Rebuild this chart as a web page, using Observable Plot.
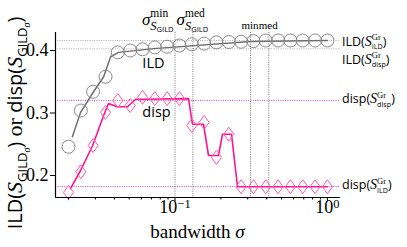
<!DOCTYPE html>
<html><head><meta charset="utf-8">
<script src="https://cdn.jsdelivr.net/npm/d3@7"></script>
<script src="https://cdn.jsdelivr.net/npm/@observablehq/plot@0.6"></script>
<style>html,body{margin:0;padding:0;background:#fff;overflow:hidden}</style>
</head><body>
<script>
// ---- data ----
const sigma = [0.0200,0.0241,0.0290,0.0350,0.0421,0.0508,0.0612,0.0737,0.0888,0.1069,0.1288,0.1552,0.1870,0.2253,0.2714,0.3270,0.3939,0.4746,0.5718,0.6889,0.8300,1.0];
const ildMarker  = [0.246,0.304,0.334,0.358,0.397,0.400,0.402,0.405,0.406,0.408,0.410,0.411,0.413,0.4136,0.414,0.415,0.416,0.416,0.416,0.416,0.416,0.416];
const dispMarker = [0.173,0.206,0.248,0.301,0.320,0.312,0.325,0.323,0.323,0.323,0.280,0.285,0.229,0.266,0.182,0.182,0.182,0.182,0.182,0.182,0.182,0.182];
const ildLineX  = [0.0212,0.0240,0.0292,0.0340,0.0378,0.0426,0.0724,0.313,1.0];
const ildLineY  = [0.262,0.301,0.334,0.358,0.390,0.397,0.403,0.4144,0.416];
const dispLineX = [0.0206,0.0240,0.0288,0.0340,0.0366,0.0419,0.0488,0.0551,0.0621,0.1226,0.1302,0.1538,0.1659,0.1929,0.2049,0.2348,0.2571,1.0];
const dispLineY = [0.179,0.208,0.248,0.296,0.315,0.310,0.310,0.322,0.322,0.323,0.282,0.282,0.232,0.232,0.266,0.266,0.182,0.182];
const refLevels = [0.416, 0.4027, 0.320, 0.1824];           // ILD(S_ILD), ILD(S_disp), disp(S_disp), disp(S_ILD)
const refKinds  = ["ild", "ild", "disp", "disp"];
const vLines    = [0.1, 0.131, 0.313, 0.4125];               // sigma min, sigma med, min, med
const xMajor = [0.1, 1];
const xMinor = [0.02,0.03,0.04,0.05,0.06,0.07,0.08,0.09,0.2,0.3,0.4,0.5,0.6,0.7,0.8,0.9];
const yTicks = [0.2, 0.3, 0.4];
const xDomain = [0.01643, 1.219];
const yDomain = [0.1648, 0.4288];

const SANS = "Open Sans, DejaVu Sans, sans-serif";
const SERIF = "Liberation Serif, DejaVu Serif, serif";
const PINK = "#ff1493", PINK2 = "#ff5aae", GREY = "#6e6e6e", GREY2 = "#8a8a8a";

const markers = sigma.map((s, i) => ({s, ild: ildMarker[i], disp: dispMarker[i]}));
const ildLine = ildLineX.map((s, i) => ({s, v: ildLineY[i]}));
const dispLine = dispLineX.map((s, i) => ({s, v: dispLineY[i]}));
const refs = refLevels.map((v, i) => ({v, k: refKinds[i]}));

const diamond = {draw(ctx, size) { const r = Math.sqrt(size / Math.PI); const w = r * 0.72;
  ctx.moveTo(0, -r); ctx.lineTo(w, 0); ctx.lineTo(0, r); ctx.lineTo(-w, 0); ctx.closePath(); }};

const plot = Plot.plot({
  width: 407, height: 247,
  marginLeft: 55, marginRight: 67, marginTop: 32, marginBottom: 50,
  style: {fontFamily: SERIF, fontSize: "18px", background: "white"},
  x: {type: "log", domain: xDomain},
  y: {domain: yDomain},
  marks: [
    Plot.ruleY(refs, {y: "v", stroke: d => d.k === "ild" ? "#9a9a9a" : PINK, strokeWidth: 0.8, strokeDasharray: "1,1.3"}),
    Plot.ruleX(vLines, {stroke: "#555", strokeWidth: 0.8, strokeDasharray: "1,1.3"}),
    Plot.line(ildLine, {x: "s", y: "v", stroke: GREY, strokeWidth: 1.5}),
    Plot.line(dispLine, {x: "s", y: "v", stroke: PINK, strokeWidth: 1.6}),
    Plot.dot(markers, {x: "s", y: "ild", r: 6.5, stroke: GREY2, strokeWidth: 1, fill: "none"}),
    Plot.dot(markers, {x: "s", y: "disp", r: 7, symbol: diamond, stroke: PINK2, strokeWidth: 1, fill: "none"}),
    Plot.ruleY([yDomain[0]], {stroke: "black", strokeWidth: 1.2}),
    Plot.ruleX([xDomain[0]], {stroke: "black", strokeWidth: 1.2}),
    Plot.axisY({ticks: yTicks, tickSize: 5, tickPadding: 2, tickFormat: d => d.toFixed(1), fontSize: 18, fontFamily: SERIF, label: null}),
    Plot.axisX({ticks: xMinor, tickSize: 2.5, tickFormat: () => "", label: null}),
    Plot.axisX({ticks: xMajor, tickSize: 4.5, tickPadding: -2, tickFormat: d => "10^" + Math.round(Math.log10(d)), fontSize: 18, fontFamily: SERIF, label: null})
  ]
});
document.body.append(plot);

const svg = d3.select(plot.tagName === "svg" ? plot : plot.querySelector("svg"));
const X = plot.scale("x"), Y = plot.scale("y");

// superscripts on the major x tick labels
svg.selectAll("text").each(function() {
  const t = this.textContent;
  if (/^10\^/.test(t)) {
    const e = t.split("^")[1].replace("-", "\u2212");
    const sel = d3.select(this); sel.text("10");
    sel.append("tspan").attr("dy", "-0.42em").attr("font-size", "12.5px").text(e);
  }
});

// rich text helper
function addText(g, x, p) {
  return g.append("text").attr("x", x + (p.dx || 0)).attr("y", p.dy || 0)
    .attr("text-anchor", "start")
    .attr("font-family", p.f).attr("font-size", p.s + "px")
    .attr("font-style", p.i ? "italic" : null).attr("fill", p.c || "black").text(p.t);
}
function seq(g, x0, parts) {
  let cx = x0;
  for (const p of parts) {
    if (p.stack) {
      let w = 0;
      for (const line of p.stack) w = Math.max(w, seq(g, cx, line) - cx);
      cx += w;
    } else cx += addText(g, cx, p).node().getComputedTextLength();
  }
  return cx;
}
function rich(x, y, parts, anchor = "start", rotate = 0) {
  const g = svg.append("g").attr("text-anchor", "start");
  const cx = seq(g, 0, parts);
  const dx = anchor === "middle" ? -cx / 2 : anchor === "end" ? -cx : 0;
  g.attr("transform", `translate(${x},${y}) rotate(${rotate}) translate(${dx},0)`);
}
const grTag = (sub) => ({stack: [[{t: "Gr", f: SERIF, s: 8.5, dy: -5.5}], [{t: sub, f: SANS, s: 7.2, dy: 3.5}]]});
const xr = X.apply(xDomain[1]) + 2;
rich(xr, Y.apply(refLevels[0]) + 5.5, [{t: "ILD(", f: SANS, s: 12.5}, {t: "S", f: SERIF, s: 14, i: true}, grTag("ILD"), {t: ")", f: SANS, s: 12.5}]);
rich(xr, Y.apply(refLevels[1]) + 15.5, [{t: "ILD(", f: SANS, s: 12.5}, {t: "S", f: SERIF, s: 14, i: true}, grTag("disp"), {t: ")", f: SANS, s: 12.5}]);
rich(xr, Y.apply(refLevels[2]) + 3, [{t: "disp(", f: SANS, s: 12.5}, {t: "S", f: SERIF, s: 14, i: true}, grTag("disp"), {t: ")", f: SANS, s: 12.5}]);
rich(xr, Y.apply(refLevels[3]) + 3, [{t: "disp(", f: SANS, s: 12.5}, {t: "S", f: SERIF, s: 14, i: true}, grTag("ILD"), {t: ")", f: SANS, s: 12.5}]);

// sigma labels on top
const sigLab = (k) => [{t: "\u03c3", f: SERIF, s: 17, i: true},
  {stack: [[{t: k, f: SERIF, s: 11.5, dy: -8}],
           [{t: "S", f: SERIF, s: 12.5, i: true, dy: 5}, {t: "GILD", f: SANS, s: 7.5, dy: 7}]]}];
rich(X.apply(vLines[0]) - 1, 25, sigLab("min"), "end");
rich(X.apply(vLines[1]), 25, sigLab("med"), "middle");
rich(X.apply(vLines[2]), 29, [{t: "min", f: SERIF, s: 11}], "middle");
rich(X.apply(vLines[3]), 29, [{t: "med", f: SERIF, s: 11}], "middle");

// inline series names
rich(X.apply(0.0615), Y.apply(0.372), [{t: "ILD", f: SANS, s: 14.5}]);
rich(X.apply(0.0615), Y.apply(0.293), [{t: "disp", f: SANS, s: 14.5}]);

// axis titles
rich((55 + 340) / 2, 238, [{t: "bandwidth ", f: SERIF, s: 19}, {t: "\u03c3", f: SERIF, s: 19, i: true}], "middle");
rich(22, 123, [
  {t: "ILD(", f: SANS, s: 20}, {t: "S", f: SERIF, s: 22, i: true},
  {t: "GILD", f: SANS, s: 13, dy: 5}, {t: "\u03c3", f: SERIF, s: 10, i: true, dy: 8},
  {t: ") ", f: SANS, s: 20}, {t: "or ", f: SERIF, s: 22},
  {t: "disp(", f: SANS, s: 20}, {t: "S", f: SERIF, s: 22, i: true},
  {t: "GILD", f: SANS, s: 13, dy: 5}, {t: "\u03c3", f: SERIF, s: 10, i: true, dy: 8},
  {t: ")", f: SANS, s: 20}], "middle", -90);
</script>
</body></html>
